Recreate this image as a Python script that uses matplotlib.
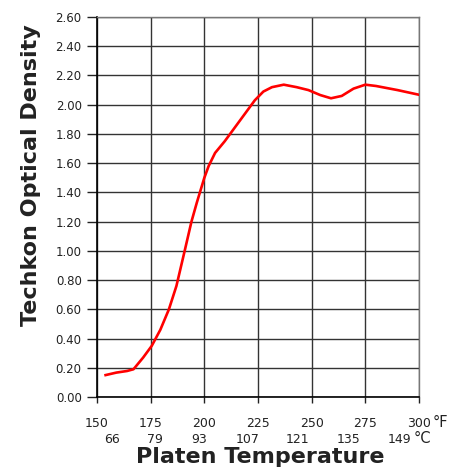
import matplotlib.pyplot as plt
import numpy as np

# platen temperature (°F) vs Techkon optical density
temp_f = [154, 159, 164, 167, 171.5, 175.5, 179.5, 183.5, 187, 191, 194, 196.5,
          200, 202, 205, 209.5, 214, 219, 223.5, 227.5, 231.5, 237, 243, 248.5,
          254, 259, 264, 269.5, 275, 280, 290, 300]
density = [0.15, 0.167, 0.178, 0.19, 0.27, 0.35, 0.46, 0.60, 0.76, 1.01, 1.20, 1.33,
           1.50, 1.58, 1.67, 1.75, 1.84, 1.94, 2.03, 2.09, 2.12, 2.137, 2.12, 2.10,
           2.066, 2.044, 2.06, 2.11, 2.137, 2.128, 2.10, 2.068]

f_ticks = [150, 175, 200, 225, 250, 275, 300]
c_labels = ['66', '79', '93', '107', '121', '135', '149']
c_label_pos = [157.2, 177.2, 197.5, 220.3, 243.6, 267.2, 290.7]
y_ticks = np.arange(0, 2.61, 0.2)

fig = plt.figure(figsize=(4.65, 4.7), dpi=100)
ax = fig.add_axes([0.2086, 0.1553, 0.6925, 0.8085])

ax.plot(temp_f, density, color='#ff0000', linewidth=1.9, zorder=3)

ax.set_xlim(150, 300)
ax.set_ylim(0, 2.6)
ax.set_xticks(f_ticks)
ax.set_xticklabels([str(t) for t in f_ticks], fontsize=9, color='#222222')
ax.set_yticks(y_ticks)
ax.set_yticklabels(['%.2f' % v for v in y_ticks], fontsize=8.5, color='#222222')
ax.tick_params(axis='x', direction='out', length=4.5, width=1, pad=10, color='#222222')
ax.tick_params(axis='y', direction='out', length=7, width=1, pad=4, color='#222222')

ax.grid(True, color='#333333', linewidth=1.0)
ax.set_axisbelow(True)
for side in ['left', 'bottom']:
    ax.spines[side].set_color('#000000')
    ax.spines[side].set_linewidth(1.2)
for side in ['top', 'right']:
    ax.spines[side].set_color('#777777')
    ax.spines[side].set_linewidth(1.0)

# celsius row under the fahrenheit labels
trans = ax.get_xaxis_transform()
for pos, lab in zip(c_label_pos, c_labels):
    ax.text(pos, -0.122, lab, transform=trans, ha='center', va='baseline',
            fontsize=9, color='#222222')
ax.text(306.5, -0.078, '°F', transform=trans, ha='left', va='baseline',
        fontsize=10.5, color='#222222', clip_on=False)
ax.text(297.5, -0.122, '°C', transform=trans, ha='left', va='baseline',
        fontsize=10.5, color='#222222', clip_on=False)

lab_font = {'family': 'DejaVu Sans', 'weight': 'bold', 'size': 16, 'color': '#222222'}
ax.text(0.506, -0.158, 'Platen Temperature', transform=ax.transAxes,
        ha='center', va='center', **lab_font)
ax.text(-0.205, 0.584, 'Techkon Optical Density', transform=ax.transAxes,
        ha='center', va='center', rotation=90, **lab_font)

plt.savefig('out.png', dpi=100)
